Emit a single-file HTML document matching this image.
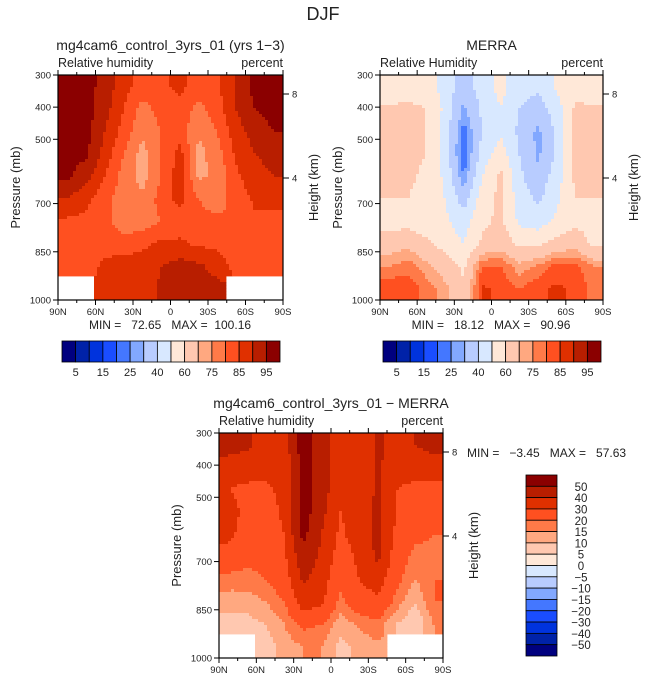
<!DOCTYPE html>
<html><head><meta charset="utf-8">
<style>
body{margin:0;background:#fff;width:647px;height:682px;overflow:hidden;font-family:"Liberation Sans",sans-serif;}
svg{display:block}
text{font-family:"Liberation Sans",sans-serif;fill:#222;white-space:pre}
</style></head>
<body>
<svg id="chart" width="647" height="682" viewBox="0 0 647 682"></svg>
<script>
// ---- data (12 latitude bands 90N->90S, 10 pressure bands 300->1000 mb) ----
const latLabels=["90N","60N","30N","0","30S","60S","90S"];
const presTicks=[300,400,500,700,850,1000];
const heightTicks=[8,4];
const rhLevels=[5,10,15,20,25,30,40,50,60,70,75,80,85,90,95];
const rhBarLabels=["5","15","25","40","60","75","85","95"];
const diffLevels=[-50,-40,-30,-20,-15,-10,-5,0,5,10,15,20,30,40,50];
const diffBarLabels=["50","40","30","20","15","10","5","0","\u22125","\u221210","\u221215","\u221220","\u221230","\u221240","\u221250"];
const palette=["#00007f","#0022a8","#0033dd","#1a4dff","#4477ff","#82a8ff","#b8ccff","#d8e8ff","#ffe8d8","#ffc8b0","#ffa880","#ff7a48","#ff5020","#e03000","#b81e00","#8b0000"];
const modelRH=[
[97,97,93,87,83,84,86,83,84,90,97,97],
[97,97,92,85,78,82,84,78,83,90,95,97],
[97,97,90,83,76,80,82,76,80,88,92,95],
[97,96,88,80,73,80,87,73,78,86,90,92],
[96,92,85,78,73,80,88,74,76,84,88,90],
[90,86,82,77,76,82,87,80,78,82,86,86],
[84,84,82,77,77,80,82,81,81,80,84,84],
[84,84,83,82,84,86,86,84,84,81,83,83],
[84,83,86,88,87,90,92,91,88,83,82,82],
[null,null,86,86,86,91,92,92,92,null,null,null]];
const merraRH=[
[52,55,56,45,35,45,53,44,42,52,55,52],
[62,62,60,48,28,42,50,40,35,45,62,62],
[62,62,60,45,22,40,48,38,28,42,62,62],
[62,62,60,46,19,45,55,40,28,42,62,62],
[62,62,58,48,25,50,62,42,33,45,62,62],
[60,60,56,50,35,55,63,45,38,48,60,60],
[56,56,54,52,45,58,62,48,45,52,58,56],
[65,68,62,56,50,62,66,58,58,64,66,58],
[75,78,72,66,58,80,80,72,76,82,82,75],
[84,84,78,72,62,86,84,80,84,86,84,78]];
const diffRH=[
[45,42,35,35,55,45,35,32,42,35,40,45],
[35,35,33,33,55,45,32,32,42,34,33,33],
[30,28,28,33,55,45,32,32,42,30,28,28],
[33,28,25,32,55,43,30,35,42,30,26,25],
[33,25,25,30,53,40,28,35,42,28,22,20],
[25,22,22,28,47,38,25,32,42,25,18,18],
[18,18,20,25,42,35,22,30,35,22,15,20],
[12,12,15,20,35,32,18,25,28,18,10,20],
[8,8,10,15,22,20,12,16,18,10,5,15],
[null,null,7,12,15,15,8,12,14,null,null,null]];

const svg=document.getElementById('chart');
const NS="http://www.w3.org/2000/svg";
function mk(tag,attrs,parent){const e=document.createElementNS(NS,tag);for(const k in attrs)e.setAttribute(k,attrs[k]);(parent||svg).appendChild(e);return e;}
function txt(s,x,y,size,anchor,parent,rot){const t=mk('text',{x:x,y:y,'font-size':size,'text-anchor':anchor||'middle'},parent);if(rot)t.setAttribute('transform','rotate(-90 '+x+' '+y+')');t.textContent=s;return t;}
function levelIndex(v,levels){let i=0;for(const l of levels)if(v>=l)i++;return i;}

function sample(grid,u,v){
  const nr=grid.length,nc=grid[0].length;
  const ni=Math.min(nr-1,Math.max(0,Math.floor(v+0.5))),nj=Math.min(nc-1,Math.max(0,Math.floor(u+0.5)));
  if(grid[ni][nj]===null)return null;
  const uc=Math.max(0,Math.min(nc-1,u)),vc=Math.max(0,Math.min(nr-1,v));
  const j0=Math.min(nc-2,Math.floor(uc)),i0=Math.min(nr-2,Math.floor(vc));
  const fu=uc-j0,fv=vc-i0;let s=0,w=0;
  [[i0,j0,(1-fu)*(1-fv)],[i0,j0+1,fu*(1-fv)],[i0+1,j0,(1-fu)*fv],[i0+1,j0+1,fu*fv]].forEach(([i,j,ww])=>{if(grid[i][j]!==null){s+=grid[i][j]*ww;w+=ww;}});
  return w>0?s/w:null;
}

function panel(x0,y0,W,H,grid,levels,name,title,sub){
  const g=mk('g',{});
  
  
  const nr=grid.length,nc=grid[0].length,step=3;
  const xs=lat=>x0+(lat/180)*W, yp=p=>y0+(p-300)/700*H;
  for(let py=0;py<H;py+=step){
    const hh=Math.min(step,H-py);
    let runStart=0,runCol=null;
    const flush=(end)=>{if(runCol&&end>runStart){const r=mk('rect',{x:x0+runStart,y:y0+py,width:end-runStart+0.4,height:hh+0.4,fill:runCol},g);
      
      }};
    for(let px=0;px<W;px+=step){
      const v=sample(grid,(px+step/2)/W*nc-0.5,(py+hh/2)/H*nr-0.5);
      const col=v===null?null:palette[levelIndex(v,levels)];
      if(col!==runCol){flush(px);runStart=px;runCol=col;}
    }
    flush(W);
  }
  const fr=mk('rect',{x:x0,y:y0,width:W,height:H,fill:'none',stroke:'#000','stroke-width':1.2},g);
  
  
  latLabels.forEach((l,i)=>{const x=xs(i*30);
    mk('line',{x1:x,y1:y0+H,x2:x,y2:y0+H+5,stroke:'#000'},g);mk('line',{x1:x,y1:y0,x2:x,y2:y0-5,stroke:'#000'},g);
    const t=txt(l,x,y0+H+15,9.5,'middle',g);
    
    });
  for(let d=15;d<180;d+=30){mk('line',{x1:xs(d),y1:y0,x2:xs(d),y2:y0-3,stroke:'#000'},g);mk('line',{x1:xs(d),y1:y0+H,x2:xs(d),y2:y0+H+3,stroke:'#000'},g);}
  presTicks.forEach(p=>{const y=yp(p);mk('line',{x1:x0-5,y1:y,x2:x0,y2:y,stroke:'#000'},g);
    const t=txt(String(p),x0-7,y+3.5,9.5,'end',g);
    
    });
  heightTicks.forEach(h=>{const y=y0+(h===8?19:103)*H/225;mk('line',{x1:x0+W,y1:y,x2:x0+W+6,y2:y,stroke:'#000'},g);txt(String(h),x0+W+9,y+3.5,9.5,'start',g);});
  const t1=txt(title,x0+W/2,y0-25,14,'middle',g);
  
  
  txt(sub,x0,y0-8,12.5,'start',g);
  txt('percent',x0+W,y0-8,12.5,'end',g);
  const yt=txt('Pressure (mb)',x0-38,y0+H/2,13,'middle',g,true);
  
  
  const ht=txt('Height (km)',x0+W+35,y0+H/2,13,'middle',g,true);
  
  
}
function hbar(x0,y0,W,H,name){
  const g=mk('g',{});
  
  
  const bw=W/palette.length;
  palette.forEach((c,i)=>{const r=mk('rect',{x:x0+i*bw,y:y0,width:bw,height:H,fill:c,stroke:'#000','stroke-width':0.8},g);
    
    });
  rhBarLabels.forEach((l,k)=>txt(l,x0+(2*k+1)*bw,y0+H+14,11,'middle',g));
}
function vbar(x0,y0,W,H,name){
  const g=mk('g',{});
  
  
  const bh=H/palette.length;
  palette.slice().reverse().forEach((c,i)=>{const r=mk('rect',{x:x0,y:y0+i*bh,width:W,height:bh,fill:c,stroke:'#000','stroke-width':0.8},g);
    
    });
  diffBarLabels.forEach((l,k)=>txt(l,x0+W+24,y0+(k+1)*bh+4.5,11.5,'middle',g));
}
const tt=txt('DJF',323,20,18,'middle');


panel(58,75,225,225,modelRH,rhLevels,'model-panel','mg4cam6_control_3yrs_01 (yrs 1\u22123)','Relative humidity');
panel(380,75,223,225,merraRH,rhLevels,'merra-panel','MERRA','Relative Humidity');
panel(219,433,224,225,diffRH,diffLevels,'diff-panel','mg4cam6_control_3yrs_01 \u2212 MERRA','Relative humidity');
txt('MIN =   72.65   MAX =  100.16',170,329,12,'middle');
txt('MIN =   18.12   MAX =   90.96',491,329,12,'middle');
txt('MIN =   \u22123.45   MAX =   57.63',467,457,12,'start');
hbar(62,341,218,21,'model-colorbar');
hbar(383,341,218,21,'merra-colorbar');
vbar(526,475,31,181,'diff-colorbar');
</script>
</body></html>
